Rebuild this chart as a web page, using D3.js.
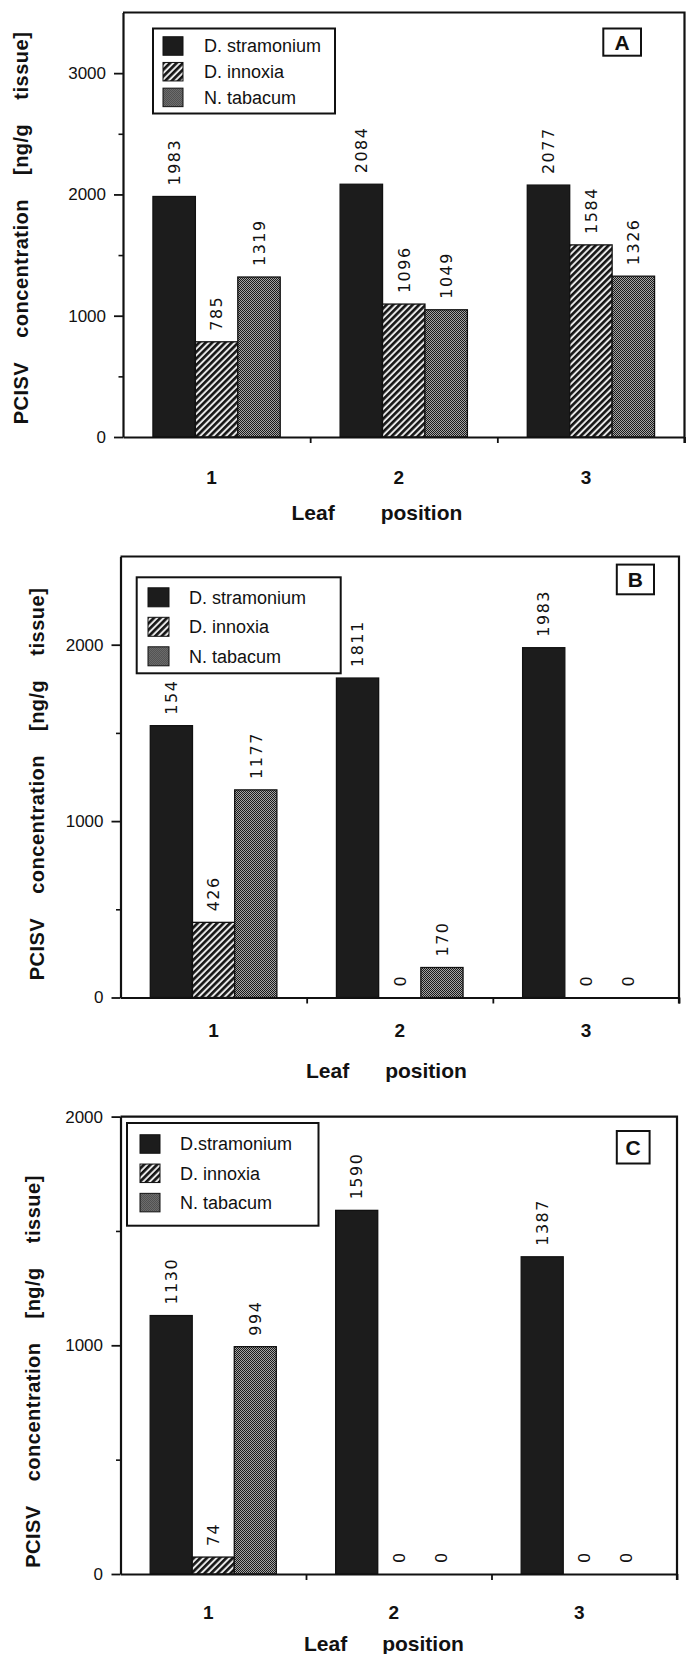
<!DOCTYPE html>
<html>
<head>
<meta charset="utf-8">
<script src="https://cdnjs.cloudflare.com/ajax/libs/d3/7.8.5/d3.min.js"></script>
<style>
  body { margin: 0; background: #fff; }
  svg { display: block; }
  text { font-family: "Liberation Sans", Arial, sans-serif; fill: #111; }
</style>
</head>
<body>
<div id="graph"></div>
<script>
// data
const leafPositions = ['1', '2', '3']
const species = ['D. stramonium', 'D. innoxia', 'N. tabacum']
const speciesC = ['D.stramonium', 'D. innoxia', 'N. tabacum']

const valuesA = [[1983, 785, 1319], [2084, 1096, 1049], [2077, 1584, 1326]]
const labelsA = [['1983', '785', '1319'], ['2084', '1096', '1049'], ['2077', '1584', '1326']]
const valuesB = [[1541, 426, 1177], [1811, 0, 170], [1983, 0, 0]]
const labelsB = [['154', '426', '1177'], ['1811', '0', '170'], ['1983', '0', '0']]
const valuesC = [[1130, 74, 994], [1590, 0, 0], [1387, 0, 0]]
const labelsC = [['1130', '74', '994'], ['1590', '0', '0'], ['1387', '0', '0']]

const ticksA = [0, 1000, 2000, 3000], minorA = [500, 1500, 2500]
const ticksB = [0, 1000, 2000], minorB = [500, 1500]
const ticksC = [0, 1000, 2000], minorC = [500, 1500]

const yLabelWords = ['PCISV', 'concentration', '[ng/g', 'tissue]']
const xLabelWords = ['Leaf', 'position']

// layout of each panel
const panels = [
  { name: 'A', values: valuesA, labels: labelsA, legend: species, ticks: ticksA, minor: minorA, max: 3500,
    x0: 123, x1: 684.5, y0: 437, y1: 12.5, tickRight: 106,
    catY: 477, catDx: -5, leafY: 512, leafX: 291.5, leafGap: 46, yLabX: 21, yLabY: 228,
    leg: { x: 153, y: 28.5, w: 182, h: 85, sx: 10, sw: 20, sh: 18.5, r0: 17.5, step: 25.7, tx: 51 },
    box: { x: 603.3, y: 28.5, w: 37.7, h: 27.2 } },
  { name: 'B', values: valuesB, labels: labelsB, legend: species, ticks: ticksB, minor: minorB, max: 2500,
    x0: 120.5, x1: 679, y0: 997.5, y1: 556.5, tickRight: 103.5,
    catY: 1030.5, catDx: 0, leafY: 1070, leafX: 306, leafGap: 36, yLabX: 37, yLabY: 784,
    leg: { x: 136.7, y: 577.3, w: 204, h: 96, sx: 11.3, sw: 21, sh: 19, r0: 20, step: 29.5, tx: 52.3 },
    box: { x: 616.8, y: 564.6, w: 37.2, h: 29.7 } },
  { name: 'C', values: valuesC, labels: labelsC, legend: speciesC, ticks: ticksC, minor: minorC, max: 2000,
    x0: 120.5, x1: 677, y0: 1574, y1: 1116.6, tickRight: 103,
    catY: 1612, catDx: -5, leafY: 1643, leafX: 304, leafGap: 35, yLabX: 33, yLabY: 1371.5,
    leg: { x: 127, y: 1123, w: 191.5, h: 102.7, sx: 13, sw: 20, sh: 18.5, r0: 21, step: 29.3, tx: 53 },
    box: { x: 616.8, y: 1131, w: 32.8, h: 32.5 } }
]

const svg = d3.select('#graph').append('svg')
  .attr('width', 686)
  .attr('height', 1654)

svg.append('rect').attr('width', 686).attr('height', 1654).attr('fill', '#fff')

const defs = svg.append('defs')
const hatch = defs.append('pattern')
  .attr('id', 'hatch')
  .attr('patternUnits', 'userSpaceOnUse')
  .attr('width', 4.6).attr('height', 4.6)
  .attr('patternTransform', 'rotate(45)')
hatch.append('rect').attr('width', 4.6).attr('height', 4.6).attr('fill', '#e8e8e8')
hatch.append('rect').attr('width', 2.6).attr('height', 4.6).attr('fill', '#141414')

const dots = defs.append('pattern')
  .attr('id', 'dots')
  .attr('patternUnits', 'userSpaceOnUse')
  .attr('width', 2).attr('height', 2)
dots.append('rect').attr('width', 2).attr('height', 2).attr('fill', '#a4a4a4')
dots.append('rect').attr('width', 1).attr('height', 1).attr('fill', '#1a1a1a')
dots.append('rect').attr('x', 1).attr('y', 1).attr('width', 1).attr('height', 1).attr('fill', '#1a1a1a')

const fills = ['#1c1c1c', 'url(#hatch)', 'url(#dots)']

const drawPanel = (p) => {
  const g = svg.append('g').attr('class', 'panel-' + p.name)

  const xScale = d3.scaleBand().domain(leafPositions).range([p.x0, p.x1])
    .paddingInner(0.32).paddingOuter(0.16)
  const xSub = d3.scaleBand().domain(d3.range(species.length)).range([0, xScale.bandwidth()])
  const yScale = d3.scaleLinear().domain([0, p.max]).range([p.y0, p.y1])

  const rows = []
  p.values.forEach((vals, i) => vals.forEach((v, j) => rows.push({
    pos: leafPositions[i], s: j, v: v, label: p.labels[i][j]
  })))

  // bars
  g.selectAll('rect.bar').data(rows.filter(d => d.v > 0)).enter().append('rect')
    .attr('class', 'bar')
    .attr('x', d => xScale(d.pos) + xSub(d.s))
    .attr('y', d => yScale(d.v))
    .attr('width', xSub.bandwidth())
    .attr('height', d => yScale(0) - yScale(d.v))
    .attr('fill', d => fills[d.s])
    .attr('stroke', '#111')
    .attr('stroke-width', 1.3)

  // value labels, rotated
  g.selectAll('text.val').data(rows).enter().append('text')
    .attr('class', 'val')
    .attr('transform', d => `translate(${xScale(d.pos) + xSub(d.s) + xSub.bandwidth() / 2},${yScale(d.v) - 11}) rotate(-90)`)
    .attr('dy', '0.36em')
    .style('font-family', '"DejaVu Sans", sans-serif')
    .style('font-size', '16px')
    .style('letter-spacing', '1.5px')
    .text(d => d.label)

  // y axis, major and minor ticks
  const yAxis = g.append('g')
    .attr('transform', `translate(${p.x0},0)`)
    .call(d3.axisLeft(yScale).tickValues(p.ticks).tickFormat(d3.format('d'))
      .tickSize(9).tickSizeOuter(0).tickPadding(p.x0 - 9 - p.tickRight))
  yAxis.select('.domain').attr('stroke', '#111').attr('stroke-width', 2.2)
  yAxis.selectAll('.tick line').attr('stroke', '#111').attr('stroke-width', 1.8)
  yAxis.selectAll('text').style('font-size', '17px').style('font-family', '"Liberation Sans", Arial, sans-serif').attr('fill', '#111')

  const yMinor = g.append('g')
    .attr('transform', `translate(${p.x0},0)`)
    .call(d3.axisLeft(yScale).tickValues(p.minor).tickSize(4.5).tickSizeOuter(0).tickFormat(''))
  yMinor.select('.domain').remove()
  yMinor.selectAll('.tick line').attr('stroke', '#111').attr('stroke-width', 1.6)

  // x axis: boundary ticks
  const xEdges = d3.scaleLinear().domain([0, leafPositions.length]).range([p.x0, p.x1])
  const xAxis = g.append('g')
    .attr('transform', `translate(0,${p.y0})`)
    .call(d3.axisBottom(xEdges).tickValues([1, 2, 3]).tickSize(6).tickSizeOuter(0).tickFormat(''))
  xAxis.select('.domain').attr('stroke', '#111').attr('stroke-width', 2.2)
  xAxis.selectAll('.tick line').attr('stroke', '#111').attr('stroke-width', 1.8)

  // category labels
  g.selectAll('text.cat').data(leafPositions).enter().append('text')
    .attr('class', 'cat')
    .attr('x', d => xScale(d) + xScale.bandwidth() / 2 + p.catDx)
    .attr('y', p.catY)
    .attr('dy', '0.36em')
    .attr('text-anchor', 'middle')
    .style('font-size', '19px')
    .style('font-weight', 'bold')
    .text(d => d)

  // frame top and right
  g.append('path')
    .attr('d', `M${p.x0},${p.y1}H${p.x1}V${p.y0 + 6}`)
    .attr('fill', 'none')
    .attr('stroke', '#111')
    .attr('stroke-width', 2.2)

  // x title
  const xt = g.append('text')
    .attr('x', p.leafX)
    .attr('y', p.leafY)
    .attr('dy', '0.36em')
    .style('font-size', '21px')
    .style('font-weight', 'bold')
  xLabelWords.forEach((w, i) => xt.append('tspan').attr('dx', i ? p.leafGap : 0).text(w))

  // y title
  const yt = g.append('text')
    .attr('transform', `translate(${p.yLabX},${p.yLabY}) rotate(-90)`)
    .attr('dy', '0.36em')
    .attr('text-anchor', 'middle')
    .style('font-size', '20px')
    .style('font-weight', 'bold')
    .style('letter-spacing', '0.5px')
  yLabelWords.forEach((w, i) => yt.append('tspan').attr('dx', i ? 24 : 0).text(w))

  // legend
  const lg = g.append('g').attr('transform', `translate(${p.leg.x},${p.leg.y})`)
  lg.append('rect')
    .attr('width', p.leg.w).attr('height', p.leg.h)
    .attr('fill', '#fff').attr('stroke', '#111').attr('stroke-width', 2)
  const item = lg.selectAll('g.item').data(p.legend).enter().append('g')
    .attr('class', 'item')
    .attr('transform', (d, i) => `translate(0,${p.leg.r0 + i * p.leg.step})`)
  item.append('rect')
    .attr('x', p.leg.sx).attr('y', -p.leg.sh / 2)
    .attr('width', p.leg.sw).attr('height', p.leg.sh)
    .attr('fill', (d, i) => fills[i])
    .attr('stroke', '#111').attr('stroke-width', 1)
  item.append('text')
    .attr('x', p.leg.tx)
    .attr('dy', '0.36em')
    .style('font-size', '18px')
    .text(d => d)

  // panel letter
  g.append('rect')
    .attr('x', p.box.x).attr('y', p.box.y)
    .attr('width', p.box.w).attr('height', p.box.h)
    .attr('fill', '#fff').attr('stroke', '#111').attr('stroke-width', 2)
  g.append('text')
    .attr('x', p.box.x + p.box.w / 2)
    .attr('y', p.box.y + p.box.h / 2)
    .attr('dy', '0.36em')
    .attr('text-anchor', 'middle')
    .style('font-size', '21px')
    .style('font-weight', 'bold')
    .text(p.name)
}

panels.forEach(drawPanel)
</script>
</body>
</html>
